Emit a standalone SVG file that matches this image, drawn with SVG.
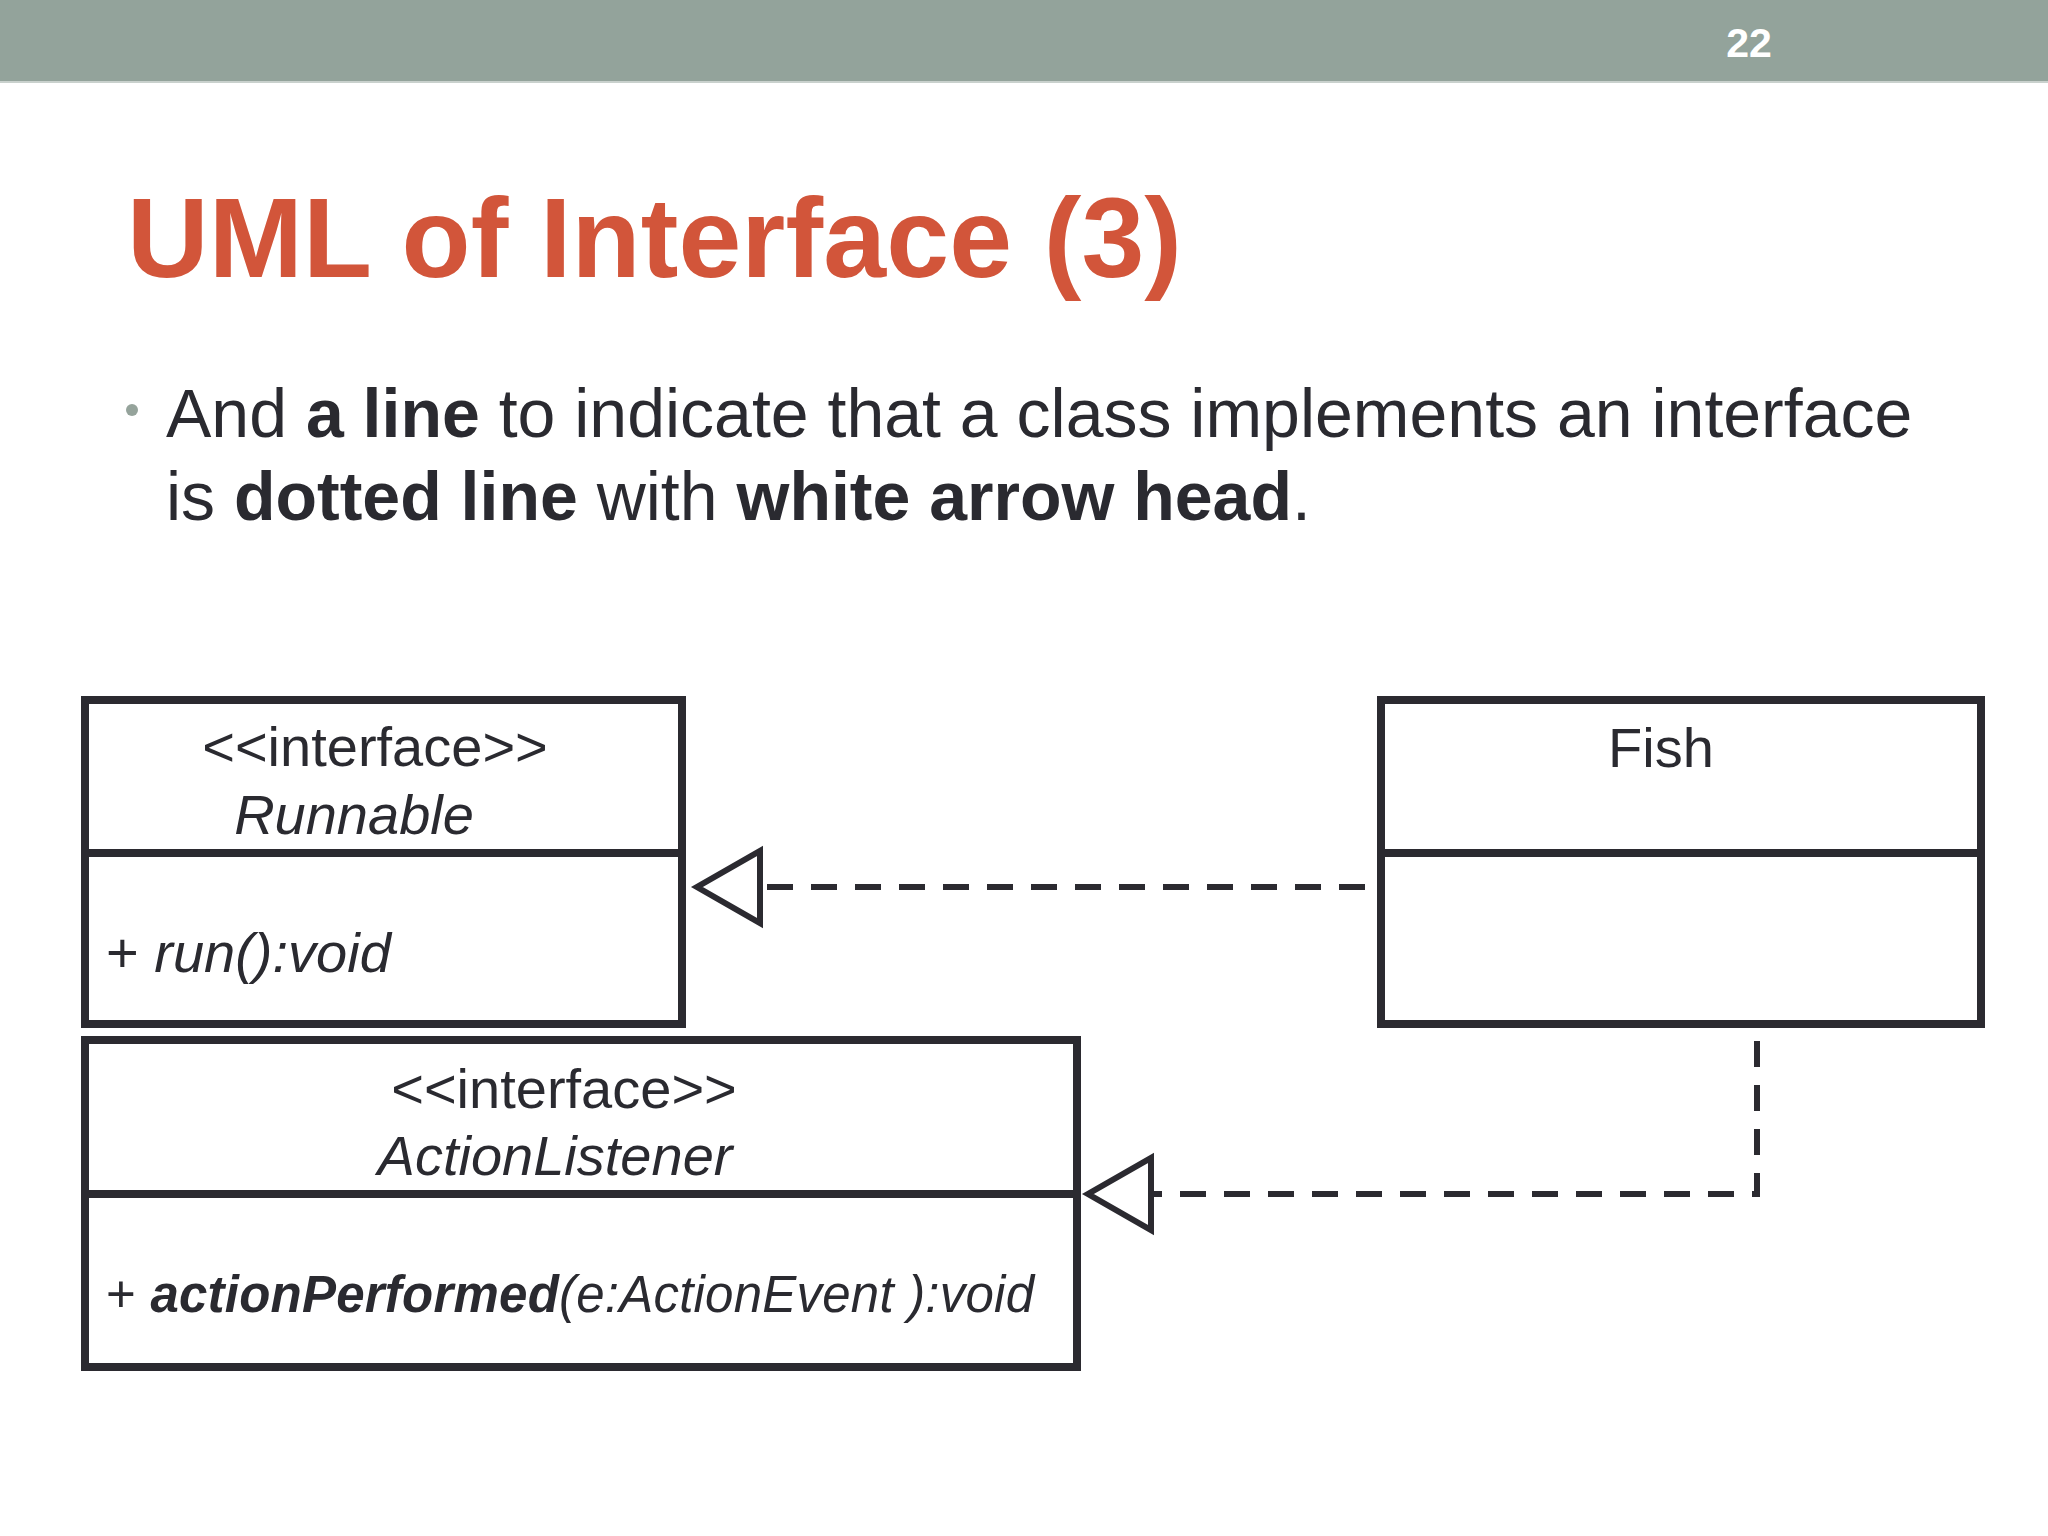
<svg xmlns="http://www.w3.org/2000/svg" width="2048" height="1536" viewBox="0 0 2048 1536">
<style>
text{font-family:"Liberation Sans",Arial,sans-serif;fill:#2a2a30}
.box{fill:#fff;stroke:#2b2a30;stroke-width:8}
.div{stroke:#2b2a30;stroke-width:8}
.lbl{font-size:56px}
.it{font-style:italic}
.dash{fill:none;stroke:#2b2a30;stroke-width:6;stroke-dasharray:26 18}
.head{fill:#fff;stroke:#2b2a30;stroke-width:6;stroke-linejoin:miter}
</style>
<rect x="0" y="0" width="2048" height="1536" fill="#fff"/>
<g id="header">
<rect x="0" y="0" width="2048" height="81" fill="#93a39b"/>
<rect x="0" y="81" width="2048" height="2" fill="#c9d1cd"/>
<text x="1749" y="57" text-anchor="middle" style="fill:#fff;font-weight:bold;font-size:41px">22</text>
</g>
<g id="title">
<text x="127" y="277" textLength="1055" style="fill:#d2553a;font-weight:bold;font-size:113px">UML of Interface (3)</text>
</g>
<g id="bullet">
<circle cx="132" cy="410" r="6" fill="#95a39b"/>
<text x="166" y="437" style="font-size:68px">And <tspan font-weight="bold">a line</tspan> to indicate that a class implements an interface</text>
<text x="166" y="520" style="font-size:68px">is <tspan font-weight="bold">dotted line</tspan> with <tspan font-weight="bold">white arrow head</tspan>.</text>
</g>
<g id="runnable">
<rect class="box" x="85" y="700" width="597" height="324"/>
<line class="div" x1="85" y1="853" x2="682" y2="853"/>
<text class="lbl" x="375" y="766" text-anchor="middle">&lt;&lt;interface&gt;&gt;</text>
<text class="lbl it" x="354" y="834" text-anchor="middle">Runnable</text>
<text class="lbl" x="106" y="972">+ <tspan class="it">run():void</tspan></text>
</g>
<g id="actionlistener">
<rect class="box" x="85" y="1040" width="992" height="327"/>
<line class="div" x1="85" y1="1194" x2="1077" y2="1194"/>
<text class="lbl" x="564" y="1108" text-anchor="middle">&lt;&lt;interface&gt;&gt;</text>
<text class="lbl it" x="555" y="1175" text-anchor="middle">ActionListener</text>
<text x="106" y="1312" textLength="928" style="font-size:51px">+ <tspan class="it" font-weight="bold">actionPerformed</tspan><tspan class="it">(e:ActionEvent ):void</tspan></text>
</g>
<g id="fish">
<rect class="box" x="1381" y="700" width="600" height="324"/>
<line class="div" x1="1381" y1="853" x2="1981" y2="853"/>
<text class="lbl" x="1661" y="767" text-anchor="middle">Fish</text>
</g>
<g id="connectors">
<path class="dash" d="M1365 887 H760"/>
<polygon class="head" points="760,851 760,923 697,887"/>
<path class="dash" d="M1757 1041 V1194 H1151"/>
<polygon class="head" points="1151,1158 1151,1230 1088,1194"/>
</g>
</svg>
